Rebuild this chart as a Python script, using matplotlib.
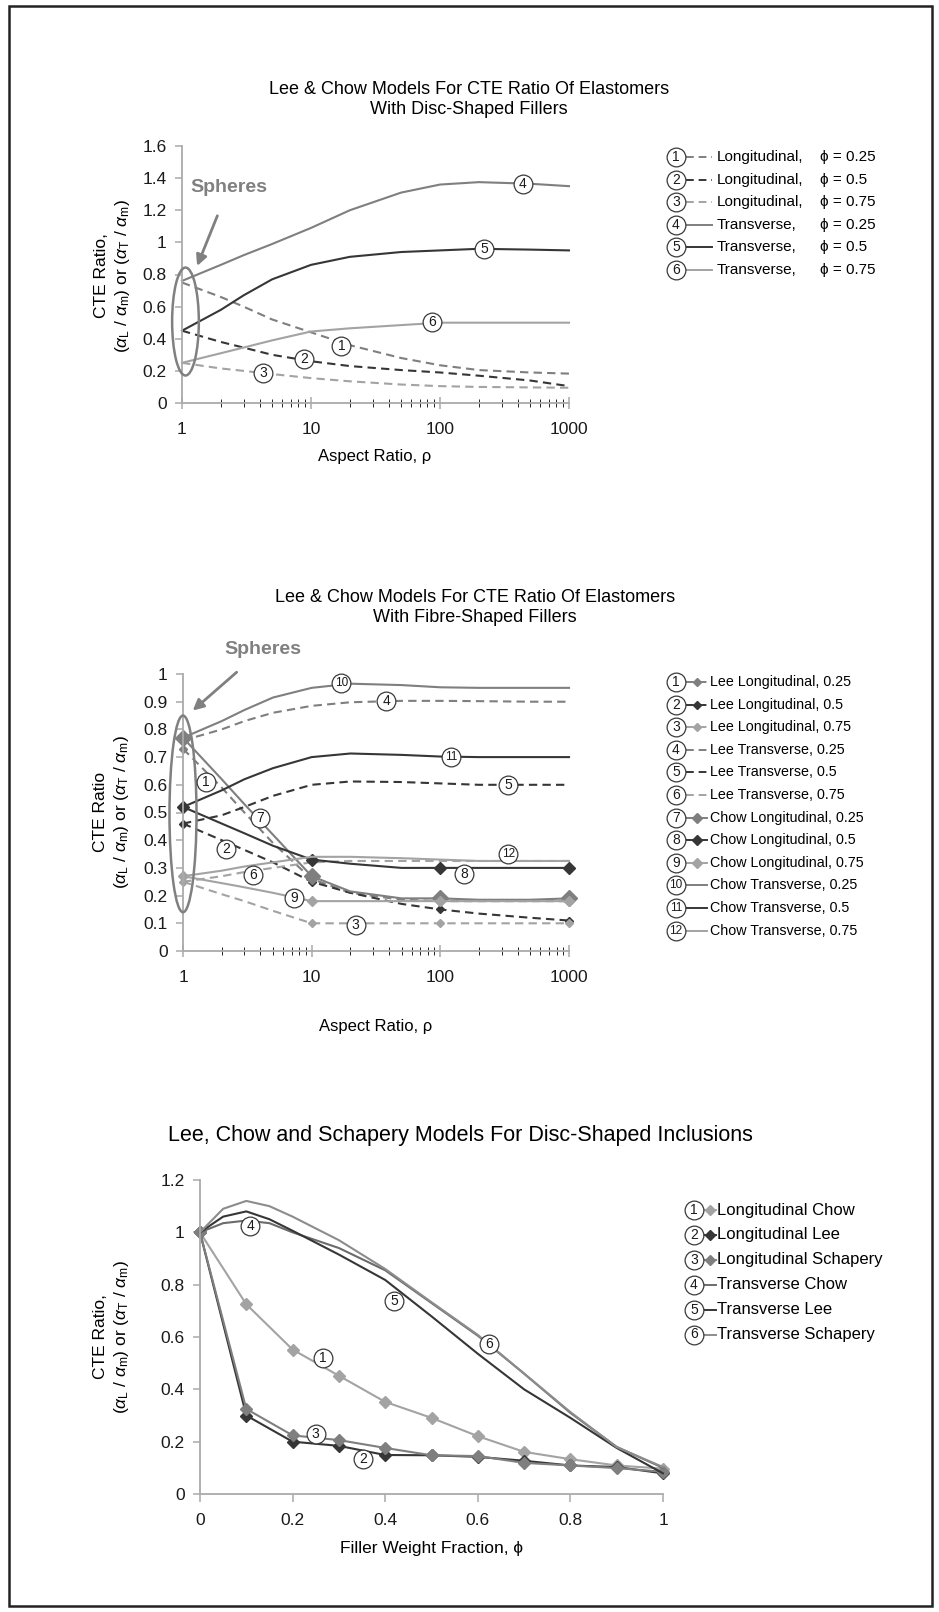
import matplotlib
matplotlib.use("Agg")
import matplotlib.pyplot as plt
from matplotlib.patches import Ellipse, Rectangle
from matplotlib.lines import Line2D
from matplotlib.ticker import FixedLocator, FuncFormatter, LogLocator, NullFormatter

plt.rcParams['font.family'] = ['Liberation Sans', 'DejaVu Sans']
plt.rcParams['mathtext.fontset'] = 'custom'
plt.rcParams['mathtext.rm'] = 'Liberation Sans'
plt.rcParams['mathtext.it'] = 'Liberation Sans:italic'

W, H = 939, 1612

# ---------------- chart 1 : disc-shaped fillers ----------------
aspect = [1, 2, 3, 5, 10, 20, 50, 100, 200, 500, 1000]
disc_long_025 = [0.75, 0.66, 0.60, 0.52, 0.44, 0.36, 0.28, 0.235, 0.205, 0.19, 0.183]
disc_long_05 = [0.45, 0.38, 0.345, 0.30, 0.26, 0.23, 0.205, 0.19, 0.17, 0.14, 0.105]
disc_long_075 = [0.25, 0.215, 0.20, 0.18, 0.155, 0.135, 0.115, 0.105, 0.10, 0.097, 0.095]
disc_trans_025 = [0.76, 0.86, 0.92, 0.99, 1.09, 1.20, 1.31, 1.36, 1.375, 1.365, 1.35]
disc_trans_05 = [0.45, 0.58, 0.67, 0.77, 0.86, 0.91, 0.94, 0.95, 0.96, 0.955, 0.95]
disc_trans_075 = [0.25, 0.31, 0.345, 0.39, 0.445, 0.465, 0.485, 0.50, 0.50, 0.50, 0.50]
disc_kind = ["Longitudinal,", "Longitudinal,", "Longitudinal,",
             "Transverse,", "Transverse,", "Transverse,"]
disc_phi = ["0.25", "0.5", "0.75", "0.25", "0.5", "0.75"]

# ---------------- chart 2 : fibre-shaped fillers ----------------
fib_lee_long_025 = [0.73, 0.59, 0.50, 0.39, 0.26, 0.21, 0.185, 0.18, 0.18, 0.18, 0.18]
fib_lee_long_05 = [0.46, 0.40, 0.365, 0.32, 0.25, 0.21, 0.17, 0.15, 0.135, 0.12, 0.11]
fib_lee_long_075 = [0.25, 0.205, 0.18, 0.145, 0.10, 0.10, 0.10, 0.10, 0.10, 0.10, 0.10]
fib_lee_trans_025 = [0.76, 0.80, 0.83, 0.86, 0.885, 0.898, 0.903, 0.903, 0.902, 0.90, 0.90]
fib_lee_trans_05 = [0.46, 0.49, 0.52, 0.56, 0.60, 0.612, 0.61, 0.605, 0.60, 0.60, 0.60]
fib_lee_trans_075 = [0.25, 0.27, 0.285, 0.30, 0.32, 0.325, 0.325, 0.325, 0.325, 0.325, 0.325]
fib_chow_long_025 = [0.77, 0.62, 0.53, 0.42, 0.27, 0.215, 0.19, 0.19, 0.185, 0.185, 0.19]
fib_chow_long_05 = [0.52, 0.46, 0.425, 0.38, 0.33, 0.315, 0.30, 0.30, 0.30, 0.30, 0.30]
fib_chow_long_075 = [0.27, 0.245, 0.23, 0.21, 0.18, 0.18, 0.18, 0.18, 0.18, 0.18, 0.18]
fib_chow_trans_025 = [0.77, 0.83, 0.87, 0.915, 0.95, 0.965, 0.96, 0.952, 0.95, 0.95, 0.95]
fib_chow_trans_05 = [0.52, 0.58, 0.62, 0.66, 0.70, 0.713, 0.708, 0.702, 0.70, 0.70, 0.70]
fib_chow_trans_075 = [0.27, 0.29, 0.305, 0.32, 0.34, 0.34, 0.335, 0.33, 0.325, 0.325, 0.325]
fib_names = ["Lee Longitudinal, 0.25", "Lee Longitudinal, 0.5", "Lee Longitudinal, 0.75",
             "Lee Transverse, 0.25", "Lee Transverse, 0.5", "Lee Transverse, 0.75",
             "Chow Longitudinal, 0.25", "Chow Longitudinal, 0.5", "Chow Longitudinal, 0.75",
             "Chow Transverse, 0.25", "Chow Transverse, 0.5", "Chow Transverse, 0.75"]
fib_marked = [0, 4, 7, 10]   # points at 1, 10, 100, 1000 carry markers

# ---------------- chart 3 : disc-shaped inclusions ----------------
phi = [0, 0.1, 0.2, 0.3, 0.4, 0.5, 0.6, 0.7, 0.8, 0.9, 1.0]
incl_long_chow = [1.0, 0.725, 0.552, 0.452, 0.352, 0.291, 0.221, 0.161, 0.133, 0.109, 0.097]
incl_long_lee = [1.0, 0.30, 0.20, 0.184, 0.149, 0.148, 0.142, 0.127, 0.109, 0.103, 0.079]
incl_long_schapery = [1.0, 0.325, 0.224, 0.206, 0.176, 0.148, 0.145, 0.119, 0.109, 0.099, 0.085]
phi_t = [0, 0.05, 0.1, 0.15, 0.2, 0.3, 0.4, 0.5, 0.6, 0.7, 0.8, 0.9, 1.0]
incl_trans_chow = [1.0, 1.035, 1.045, 1.035, 1.0, 0.94, 0.855, 0.73, 0.605, 0.46, 0.31, 0.18, 0.10]
incl_trans_lee = [1.0, 1.06, 1.08, 1.05, 1.006, 0.915, 0.818, 0.679, 0.536, 0.40, 0.291, 0.176, 0.079]
incl_trans_schapery = [1.0, 1.09, 1.12, 1.10, 1.06, 0.97, 0.86, 0.733, 0.608, 0.46, 0.313, 0.179, 0.103]
incl_names = ["Longitudinal Chow", "Longitudinal Lee", "Longitudinal Schapery",
              "Transverse Chow", "Transverse Lee", "Transverse Schapery"]

GRAY = '#7f7f7f'
DARK = '#363636'
LIGHT = '#a3a3a3'
DASH = (0, (4, 2.5))
YLAB = 'CTE Ratio,\n' + r'$(\alpha_\mathrm{L}\ /\ \alpha_\mathrm{m})$ or $(\alpha_\mathrm{T}\ /\ \alpha_\mathrm{m})$'

fig = plt.figure(figsize=(W / 100, H / 100), dpi=100)


def fx(x):
    return x / W


def fy(y):
    return 1 - y / H


def px_axes(l, t, r, b):
    return fig.add_axes([l / W, 1 - b / H, (r - l) / W, (b - t) / H])


def fmt(v, p):
    return f'{v:g}'


def style(ax, xdir='inout'):
    for s in ['top', 'right']:
        ax.spines[s].set_visible(False)
    for s in ['left', 'bottom']:
        ax.spines[s].set_color('#aaaaaa')
        ax.spines[s].set_linewidth(1.3)
    ax.tick_params(colors='#aaaaaa', labelcolor='#1a1a1a', labelsize=12.5, width=1.1)
    ax.tick_params(axis='y', direction='out', length=5, pad=6)
    ax.tick_params(axis='x', which='both', direction=xdir, length=8, pad=10)
    ax.tick_params(axis='x', which='minor', length=6)
    ax.yaxis.set_major_formatter(FuncFormatter(fmt))
    ax.xaxis.set_major_formatter(FuncFormatter(fmt))


def log_x(ax):
    ax.set_xscale('log')
    ax.set_xlim(1, 1000)
    ax.xaxis.set_major_locator(FixedLocator([1, 10, 100, 1000]))
    ax.xaxis.set_major_formatter(FuncFormatter(fmt))
    ax.xaxis.set_minor_locator(LogLocator(base=10, subs=range(2, 10)))
    ax.xaxis.set_minor_formatter(NullFormatter())


def circled(x, y, s, ax=None):
    fs = 10 if len(s) == 1 else 8.5
    if ax is None:
        fig.add_artist(Line2D([fx(x)], [fy(y)], transform=fig.transFigure, ls='none', marker='o',
                              ms=13.5, mfc='white', mec='#3a3a3a', mew=0.9, zorder=5))
        fig.text(fx(x), fy(y), s, ha='center', va='center', fontsize=fs, color='#1a1a1a', zorder=6)
    else:
        ax.plot([x], [y], ls='none', marker='o', ms=13.5, mfc='white', mec='#3a3a3a', mew=0.9,
                zorder=5, clip_on=False)
        ax.text(x, y, s, ha='center', va='center', fontsize=fs, color='#1a1a1a', zorder=6)


def legend_sample(x0, x1, y, color, ls, marker=None, ms=0):
    fig.add_artist(Line2D([fx(x0), fx((x0 + x1) / 2), fx(x1)], [fy(y)] * 3, transform=fig.transFigure,
                          color=color, ls=ls, lw=1.4, marker=marker, markevery=[1], ms=ms))


def spheres(ax, txt_xy, arrow_xy, ell):
    ax.annotate('Spheres', xy=arrow_xy, xytext=txt_xy, ha='center', va='center',
                fontsize=14, fontweight='bold', color='#808080',
                arrowprops=dict(arrowstyle='-|>', color='#808080', lw=2, mutation_scale=16,
                                shrinkA=13, shrinkB=0))
    ax.add_patch(Ellipse(ell[:2], ell[2], ell[3], transform=ax.transAxes, fill=False,
                         ec='#808080', lw=1.8, clip_on=False, zorder=4))


# outer frame
fig.add_artist(Rectangle((fx(9), fy(1606)), fx(932) - fx(9), fy(6) - fy(1606),
                         transform=fig.transFigure, fill=False, ec='#222222', lw=1.8))

# ===================== chart 1 =====================
ax1 = px_axes(182, 146, 569, 403)
style(ax1)
log_x(ax1)
ax1.set_ylim(0, 1.6)
ax1.yaxis.set_major_locator(FixedLocator([0, 0.2, 0.4, 0.6, 0.8, 1, 1.2, 1.4, 1.6]))
disc_series = [disc_long_025, disc_long_05, disc_long_075, disc_trans_025, disc_trans_05, disc_trans_075]
disc_cols = [GRAY, DARK, LIGHT, GRAY, DARK, LIGHT]
disc_ls = [DASH, DASH, DASH, '-', '-', '-']
for vals, c, ls in zip(disc_series, disc_cols, disc_ls):
    ax1.plot(aspect, vals, color=c, ls=ls, lw=1.5, clip_on=False)
for (x, y), s in zip([(17.2, 0.353), (8.9, 0.276), (4.25, 0.188), (437, 1.365), (221, 0.96), (86.7, 0.503)],
                     ['1', '2', '3', '4', '5', '6']):
    circled(x, y, s, ax1)
spheres(ax1, (2.3, 1.34), (1.31, 0.853), (0.009, 0.317, 0.069, 0.42))
fig.text(fx(469), fy(90), 'Lee & Chow Models For CTE Ratio Of Elastomers', ha='center', va='center', fontsize=13)
fig.text(fx(469), fy(110), 'With Disc-Shaped Fillers', ha='center', va='center', fontsize=13)
fig.text(fx(375), fy(456), 'Aspect Ratio, \u03c1', ha='center', va='center', fontsize=12)
fig.text(fx(113), fy(276), YLAB, ha='center', va='center', rotation=90, fontsize=12.5, linespacing=1.35)
for i in range(6):
    y = 157 + i * 22.6
    circled(676, y, str(i + 1))
    legend_sample(686, 712, y, disc_cols[i], disc_ls[i])
    fig.text(fx(717), fy(y), disc_kind[i], ha='left', va='center', fontsize=11)
    fig.text(fx(820), fy(y), '\u03d5 = ' + disc_phi[i], ha='left', va='center', fontsize=11)

# ===================== chart 2 =====================
ax2 = px_axes(183, 674, 569, 951)
style(ax2)
log_x(ax2)
ax2.set_ylim(0, 1)
ax2.yaxis.set_major_locator(FixedLocator([i / 10 for i in range(11)]))
fib_series = [fib_lee_long_025, fib_lee_long_05, fib_lee_long_075,
              fib_lee_trans_025, fib_lee_trans_05, fib_lee_trans_075,
              fib_chow_long_025, fib_chow_long_05, fib_chow_long_075,
              fib_chow_trans_025, fib_chow_trans_05, fib_chow_trans_075]
fib_cols = [GRAY, DARK, LIGHT] * 4
fib_ls = [DASH] * 6 + ['-'] * 6
fib_mk = ['D'] * 3 + [None] * 3 + ['D'] * 3 + [None] * 3
fib_ms = [4.5, 4, 4, 0, 0, 0, 8, 6, 5.5, 0, 0, 0]
for vals, c, ls, m, ms in zip(fib_series, fib_cols, fib_ls, fib_mk, fib_ms):
    ax2.plot(aspect, vals, color=c, ls=ls, lw=1.5, marker=m, ms=ms, markevery=fib_marked, clip_on=False)
fib_lab = [(1.5, 0.61), (2.15, 0.37), (22, 0.093), (38, 0.903), (337, 0.60), (3.5, 0.275),
           (4.0, 0.48), (153, 0.278), (7.3, 0.19), (17, 0.966), (121, 0.70), (337, 0.35)]
for i, (x, y) in enumerate(fib_lab):
    circled(x, y, str(i + 1), ax2)
spheres(ax2, (4.2, 1.09), (1.19, 0.868), (0.0, 0.495, 0.07, 0.71))
fig.text(fx(475), fy(597), 'Lee & Chow Models For CTE Ratio Of Elastomers', ha='center', va='center', fontsize=13)
fig.text(fx(475), fy(618), 'With Fibre-Shaped Fillers', ha='center', va='center', fontsize=13)
fig.text(fx(376), fy(1026), 'Aspect Ratio, \u03c1', ha='center', va='center', fontsize=12)
fig.text(fx(112), fy(812), YLAB.replace(',', '', 1), ha='center', va='center', rotation=90,
         fontsize=12.5, linespacing=1.35)
for i in range(12):
    y = 682 + i * 22.6
    circled(676, y, str(i + 1))
    legend_sample(686, 707, y, fib_cols[i], fib_ls[i], fib_mk[i], min(fib_ms[i], 5.5))
    fig.text(fx(710), fy(y), fib_names[i], ha='left', va='center', fontsize=10.3)

# ===================== chart 3 =====================
ax3 = px_axes(200, 1180, 663, 1494)
style(ax3, xdir='out')
ax3.set_xlim(0, 1)
ax3.set_ylim(0, 1.2)
ax3.xaxis.set_major_locator(FixedLocator([0, 0.2, 0.4, 0.6, 0.8, 1]))
ax3.yaxis.set_major_locator(FixedLocator([0, 0.2, 0.4, 0.6, 0.8, 1, 1.2]))
ax3.tick_params(axis='x', length=6, pad=8)
incl_long = [incl_long_chow, incl_long_lee, incl_long_schapery]
incl_trans = [incl_trans_chow, incl_trans_lee, incl_trans_schapery]
incl_cols = [LIGHT, DARK, GRAY, '#6b6b6b', DARK, '#8c8c8c']
for vals, c in zip(incl_long, incl_cols[:3]):
    ax3.plot(phi, vals, color=c, lw=1.5, marker='D', ms=6, clip_on=False)
for vals, c in zip(incl_trans, incl_cols[3:]):
    ax3.plot(phi_t, vals, color=c, lw=1.5, clip_on=False)
for (x, y), s in zip([(0.265, 0.521), (0.353, 0.133), (0.25, 0.23), (0.109, 1.024), (0.419, 0.739), (0.624, 0.572)],
                     ['1', '2', '3', '4', '5', '6']):
    circled(x, y, s, ax3)
fig.text(fx(460), fy(1135), 'Lee, Chow and Schapery Models For Disc-Shaped Inclusions',
         ha='center', va='center', fontsize=15.5)
fig.text(fx(432), fy(1548), 'Filler Weight Fraction, \u03d5', ha='center', va='center', fontsize=12.5)
fig.text(fx(112), fy(1337), YLAB, ha='center', va='center', rotation=90, fontsize=12.5, linespacing=1.35)
for i in range(6):
    y = 1210 + i * 24.9
    circled(694, y, str(i + 1))
    legend_sample(703, 716, y, incl_cols[i], '-', 'D' if i < 3 else None, 5)
    fig.text(fx(717), fy(y), incl_names[i], ha='left', va='center', fontsize=12)

fig.savefig('out.png', dpi=100)
